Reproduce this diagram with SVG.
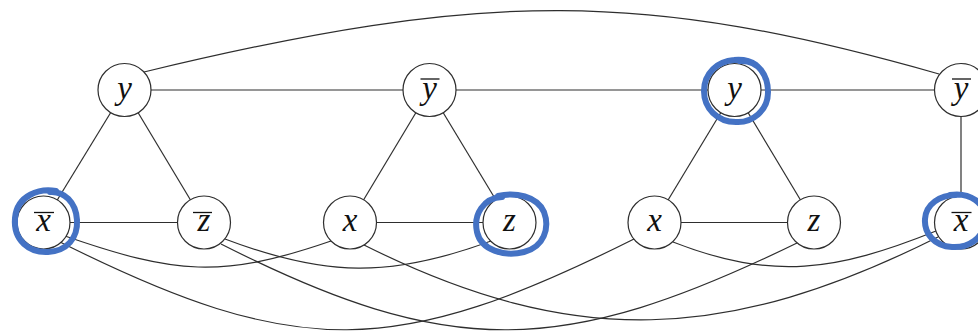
<svg xmlns="http://www.w3.org/2000/svg" width="978" height="331" viewBox="0 0 978 331">
<defs>
<style>
.e{stroke:#2e2e2e;stroke-width:1.2;fill:none}
.n circle{fill:#fff;stroke:#2e2e2e;stroke-width:1.2}
.t{font-family:'Liberation Serif','Times New Roman',serif;font-style:italic;font-size:33px;fill:#111;text-anchor:middle}
.bar{stroke:#111;stroke-width:1.3}
.hl{fill:none;stroke:#4472c4;stroke-width:6;stroke-linecap:round;stroke-linejoin:round}
</style>
</defs>
<rect width="978" height="331" fill="#fff"/>
<g id="connectors">
<line class="e" x1="124.5" y1="90" x2="429.5" y2="90"/>
<line class="e" x1="429.5" y1="90" x2="734.5" y2="90"/>
<line class="e" x1="734.5" y1="90" x2="961" y2="90"/>
<line class="e" x1="961" y1="90" x2="961" y2="222.5"/>
<line class="e" x1="124.5" y1="90" x2="43.5" y2="222.5"/>
<line class="e" x1="124.5" y1="90" x2="204" y2="222.5"/>
<line class="e" x1="43.5" y1="222.5" x2="204" y2="222.5"/>
<line class="e" x1="429.5" y1="90" x2="350" y2="222.5"/>
<line class="e" x1="429.5" y1="90" x2="509.5" y2="222.5"/>
<line class="e" x1="350" y1="222.5" x2="509.5" y2="222.5"/>
<line class="e" x1="734.5" y1="90" x2="654.5" y2="222.5"/>
<line class="e" x1="734.5" y1="90" x2="814" y2="222.5"/>
<line class="e" x1="654.5" y1="222.5" x2="814" y2="222.5"/>
<path class="e" d="M144,72 C488,-11 645,-9.5 939,74"/>
<path class="e" d="M65,236 C175,274 221,279 331,241"/>
<path class="e" d="M225,239 C325,277 391,278 491,241"/>
<path class="e" d="M60,242 C298,361 396,358 634,239"/>
<path class="e" d="M221,244 C450,360 563,357 797,243"/>
<path class="e" d="M364,245 C574,350 728,342 938,237"/>
<path class="e" d="M673,242 C773,281 836,271 936,231"/>
</g>
<g id="n-y1" class="n"><circle cx="124.5" cy="90" r="26.5"/><text class="t" x="124.5" y="98.5" font-family="Liberation Serif, serif" font-style="italic">y</text></g>
<g id="n-ybar2" class="n"><circle cx="429.5" cy="90" r="26.5"/><text class="t" x="429.5" y="98.5" font-family="Liberation Serif, serif" font-style="italic">y</text><line class="bar" x1="420.5" y1="79" x2="439.5" y2="79"/></g>
<g id="n-y3" class="n"><circle cx="734.5" cy="90" r="26.5"/><text class="t" x="734.5" y="98.5" font-family="Liberation Serif, serif" font-style="italic">y</text></g>
<g id="n-ybar4" class="n"><circle cx="961" cy="90" r="26.5"/><text class="t" x="961" y="98.5" font-family="Liberation Serif, serif" font-style="italic">y</text><line class="bar" x1="952" y1="79" x2="971" y2="79"/></g>
<g id="n-xbar1" class="n"><circle cx="43.5" cy="222.5" r="26.5"/><text class="t" x="43.5" y="231" font-family="Liberation Serif, serif" font-style="italic">x</text><line class="bar" x1="34" y1="212.5" x2="54" y2="212.5"/></g>
<g id="n-zbar1" class="n"><circle cx="204" cy="222.5" r="26.5"/><text class="t" x="204" y="231" font-family="Liberation Serif, serif" font-style="italic">z</text><line class="bar" x1="193" y1="212.5" x2="212" y2="212.5"/></g>
<g id="n-x2" class="n"><circle cx="350" cy="222.5" r="26.5"/><text class="t" x="350" y="231" font-family="Liberation Serif, serif" font-style="italic">x</text></g>
<g id="n-z2" class="n"><circle cx="509.5" cy="222.5" r="26.5"/><text class="t" x="509.5" y="231" font-family="Liberation Serif, serif" font-style="italic">z</text></g>
<g id="n-x3" class="n"><circle cx="654.5" cy="222.5" r="26.5"/><text class="t" x="654.5" y="231" font-family="Liberation Serif, serif" font-style="italic">x</text></g>
<g id="n-z3" class="n"><circle cx="814" cy="222.5" r="26.5"/><text class="t" x="814" y="231" font-family="Liberation Serif, serif" font-style="italic">z</text></g>
<g id="n-xbar4" class="n"><circle cx="961" cy="222.5" r="26.5"/><text class="t" x="961" y="231" font-family="Liberation Serif, serif" font-style="italic">x</text><line class="bar" x1="951.5" y1="212.5" x2="971.5" y2="212.5"/></g>
<g id="highlights">
<path class="hl" d="M56,191 C40,188 17,195 15,218 C13,241 30,253 48,252 C67,251 78,238 77,220 C76,202 64,191 50,192"/>
<path class="hl" d="M498,196 C515,192 537,196 544,212 C550,228 544,247 524,252 C504,257 481,250 477,232 C473,214 484,198 502,197"/>
<path class="hl" d="M740,61 C759,60 768,76 768,92 C768,111 752,123 736,122 C717,122 704,108 704,91 C704,73 718,61 734,60 C745,59 752,62 756,65"/>
<path class="hl" d="M950,195 C970,192 986,203 985,220 C984,239 968,248 952,247 C934,246 924,233 925,219 C926,204 940,195 956,195"/>
</g>
</svg>
